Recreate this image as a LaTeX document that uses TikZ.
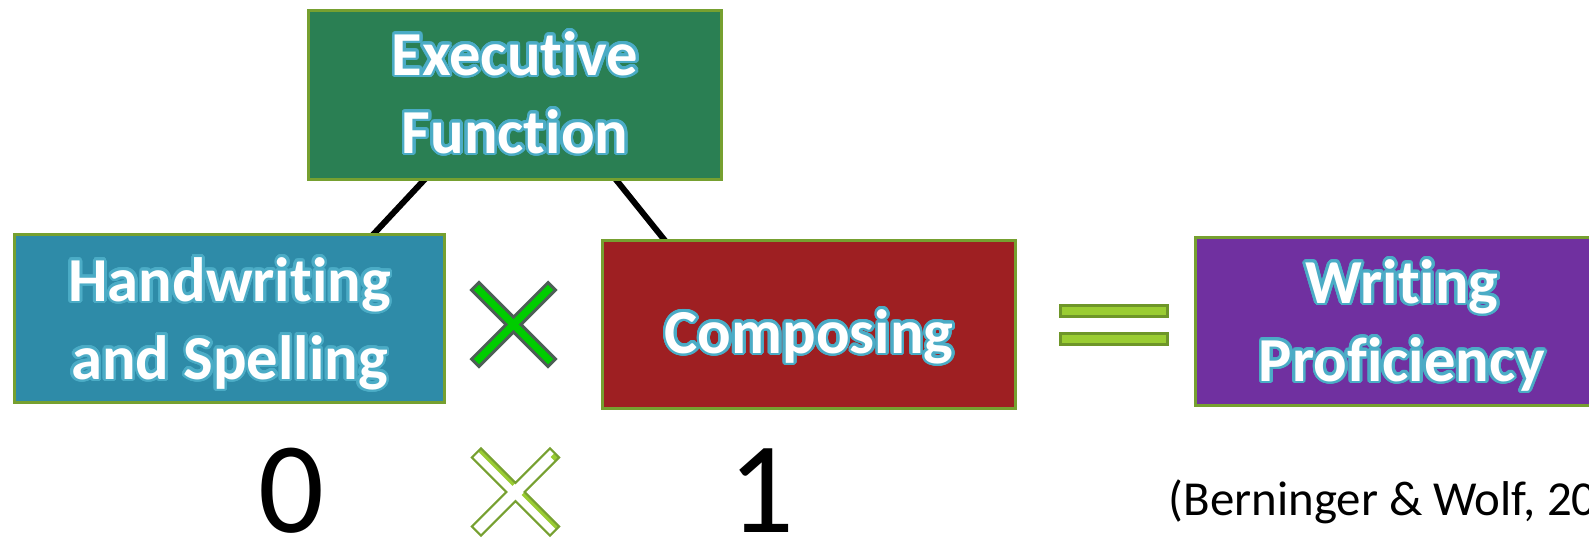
\documentclass[tikz,border=0pt]{standalone}
\usepackage{fontspec}
\setmainfont{Carlito}[Ligatures={NoCommon,NoRare}]
\usepackage[copies]{contour}
\contourlength{0.75pt}
\contournumber{32}
\usetikzlibrary{calc,backgrounds}
\definecolor{execfill}{HTML}{2A7F53}
\definecolor{handfill}{HTML}{2E8BA8}
\definecolor{compfill}{HTML}{9E1F22}
\definecolor{wpfill}{HTML}{7030A0}
\definecolor{boxedge}{HTML}{76A030}
\definecolor{glow}{HTML}{4BACC6}
\definecolor{xgreen}{HTML}{00CC00}
\definecolor{xedge}{HTML}{4D5E56}
\definecolor{eqfill}{HTML}{9ACD32}
\definecolor{eqedge}{HTML}{6E9628}
\newcommand{\mulpath}[3]{(-#2,-#1) -- (0,-#3) -- (#2,-#1) -- (#1,-#2) -- (#3,0) -- (#1,#2) -- (#2,#1) -- (0,#3) -- (-#2,#1) -- (-#1,#2) -- (-#3,0) -- (-#1,-#2) -- cycle}
\begin{document}
\begin{tikzpicture}[x=0.01cm,y=-0.01cm,
  box/.style={draw=boxedge, line width=0.85pt, minimum width=4.13cm, minimum height=1.68cm, inner sep=0pt},
  boxtext/.style={font=\fontsize{17.8pt}{22pt}\selectfont\bfseries, text=white, anchor=base, inner sep=0pt},
  conn/.style={line width=1.7pt, draw=black},
  digit/.style={font=\fontsize{37pt}{40pt}\selectfont, anchor=base, inner sep=0pt},
  citestyle/.style={font=\fontsize{13.9pt}{17pt}\selectfont, anchor=base west, inner sep=0pt},
  eqbar/.style={fill=eqfill, draw=eqedge, line width=0.9pt}
]
\useasboundingbox (0,0) rectangle (1589,539);
\clip (0,0) rectangle (1589,539);

% boxes
\node[box, fill=execfill, minimum height=1.69cm] (exec) at (515,95) {};
\node[box, fill=handfill, minimum width=4.30cm] (hand) at (229.5,318.5) {};
\node[box, fill=compfill] (comp) at (809,324.5) {};
\node[box, fill=wpfill] (wp) at (1402,321.5) {};

% connectors
\begin{scope}[on background layer]
\draw[conn] ($(exec.south west)+(120,-4)$) -- ($(hand.north west)+(358,4)$);
\draw[conn] ($(exec.south west)+(307,-4)$) -- ($(comp.north west)+(66,4)$);
\end{scope}

% box texts
\node[boxtext] (exec1) at ($(exec.center)+(0,-20)$) {\contour{glow}{Executive}};
\node[boxtext] (exec2) at ($(exec.center)+(0,58)$) {\contour{glow}{Function}};
\node[boxtext] (hand1) at ($(hand.center)+(0,-17.5)$) {\contour{glow}{Handwriting}};
\node[boxtext] (hand2) at ($(hand.center)+(0,60.5)$) {\contour{glow}{and Spelling}};
\node[boxtext] (comp1) at ($(comp.center)+(0,28.5)$) {\contour{glow}{Composing}};
\node[boxtext] (wp1) at ($(wp.center)+(0,-18.5)$) {\contour{glow}{Writing}};
\node[boxtext] (wp2) at ($(wp.center)+(0,59.5)$) {\contour{glow}{Proficiency}};

% multiplication sign (green)
\begin{scope}[shift={(513.5,324.5)}]
\draw[line width=0.85pt, draw=xedge, fill=xgreen] \mulpath{42}{34.6}{7.4};
\end{scope}

% equals sign
\draw[eqbar] (1060.5,305.5) rectangle (1167.5,316.5);
\draw[eqbar] (1060.5,333.5) rectangle (1167.5,344.5);

% numbers
\node[digit] (zero) at (291,532) {0};
\node[digit] (one) at (761,532) {1};

% outline multiplication sign
\begin{scope}[shift={(515.5,492)}]
\fill[eqfill] (0,-9.2) -- (-34.5,-43.7) -- (-37.5,-40.7) -- (-3,-6.2) -- cycle;
\fill[eqfill] (9.2,0) -- (43.7,34.5) -- (40.7,37.5) -- (6.2,3) -- cycle;
\fill[eqfill] (39.1,-39.1) -- (43.7,-34.5) -- (39.7,-30.5) -- (35.1,-35.1) -- cycle;
\draw[line width=0.6pt, draw=boxedge] \mulpath{43.7}{34.5}{9.2};
\end{scope}

% citation
\node[citestyle] (cite) at (1168,515) {(Berninger \& Wolf, 20};
\end{tikzpicture}
\end{document}
